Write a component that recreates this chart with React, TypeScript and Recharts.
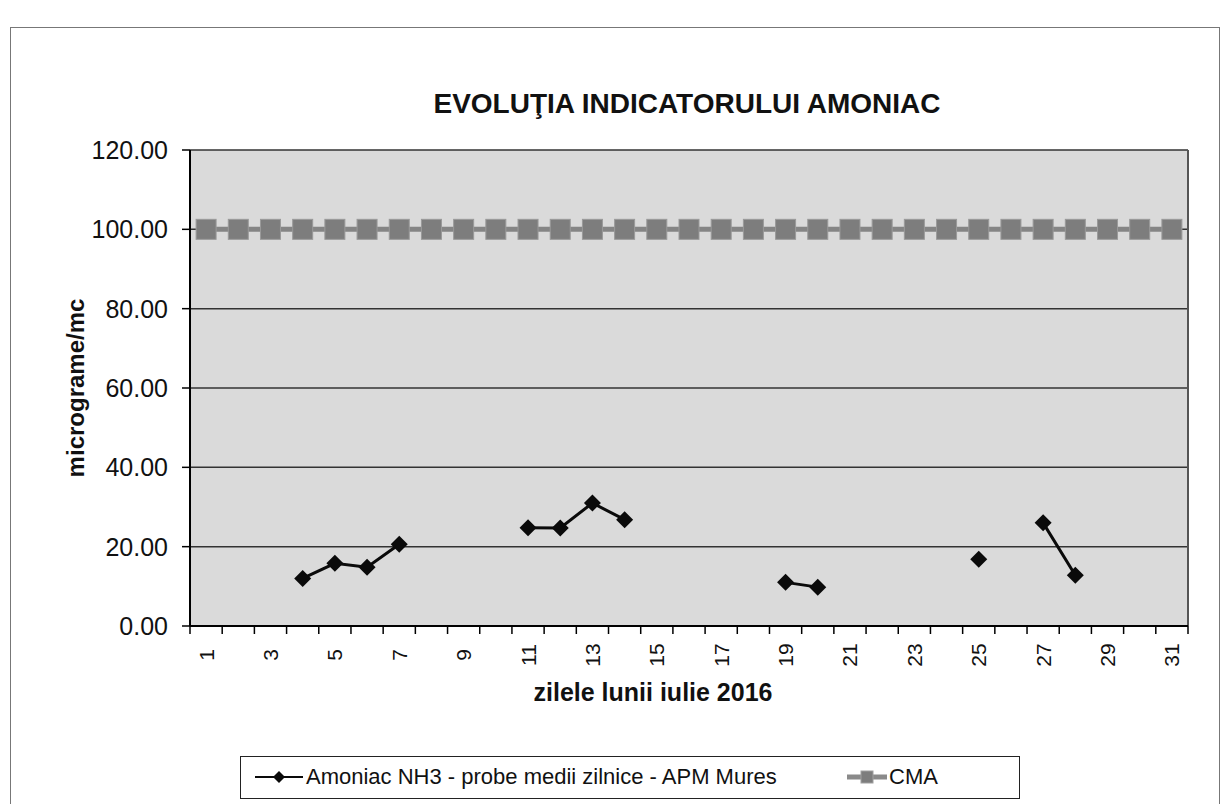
import React from "react";
import {
  LineChart,
  Line,
  XAxis,
  YAxis,
  CartesianGrid,
  Legend,
  ReferenceLine,
} from "recharts";

// zilele lunii iulie 2016
const days = [
  1, 2, 3, 4, 5, 6, 7, 8, 9, 10, 11, 12, 13, 14, 15, 16, 17, 18, 19, 20, 21,
  22, 23, 24, 25, 26, 27, 28, 29, 30, 31,
];

// Amoniac NH3 - probe medii zilnice (null = fara proba)
const nh3 = [
  null, null, null, 12.0, 15.8, 14.8, 20.6, null, null, null, 24.8, 24.7, 31.0,
  26.8, null, null, null, null, 11.0, 9.8, null, null, null, null, 16.8, null,
  26.0, 12.8, null, null, null,
];

// CMA
const cma = [
  100, 100, 100, 100, 100, 100, 100, 100, 100, 100, 100, 100, 100, 100, 100,
  100, 100, 100, 100, 100, 100, 100, 100, 100, 100, 100, 100, 100, 100, 100,
  100,
];

const yTicks = [0, 20, 40, 60, 80, 100, 120];
const xLabelTicks = [1, 3, 5, 7, 9, 11, 13, 15, 17, 19, 21, 23, 25, 27, 29, 31];
const xBoundTicks = [
  0.5, 1.5, 2.5, 3.5, 4.5, 5.5, 6.5, 7.5, 8.5, 9.5, 10.5, 11.5, 12.5, 13.5,
  14.5, 15.5, 16.5, 17.5, 18.5, 19.5, 20.5, 21.5, 22.5, 23.5, 24.5, 25.5, 26.5,
  27.5, 28.5, 29.5, 30.5, 31.5,
];

const data = days.map((d, i) => ({ day: d, nh3: nh3[i], cma: cma[i] }));

const FONT = "'Liberation Sans', Arial, sans-serif";
const NH3_LABEL = "Amoniac NH3 - probe medii zilnice - APM Mures";

const Diamond = (props: any) => {
  const { cx, cy, value, index } = props;
  if (cx == null || cy == null || value == null) return <g key={`d-${index}`} />;
  const r = 8.5;
  return (
    <path
      key={`d-${index}`}
      d={`M${cx},${cy - r}L${cx + r},${cy}L${cx},${cy + r}L${cx - r},${cy}Z`}
      fill="#0a0a0a"
    />
  );
};

const Square = (props: any) => {
  const { cx, cy, index } = props;
  if (cx == null || cy == null) return <g key={`s-${index}`} />;
  return (
    <rect
      key={`s-${index}`}
      x={cx - 10}
      y={cy - 10}
      width={20}
      height={20}
      fill="#7d7d7d"
      stroke="#9a9a9a"
      strokeWidth={1}
    />
  );
};

const EmptyTick = () => <g />;

const DayTick = (props: any) => {
  const { x, y, payload } = props;
  return (
    <text
      x={x}
      y={y}
      transform={`rotate(-90, ${x}, ${y})`}
      textAnchor="middle"
      dominantBaseline="central"
      fontFamily={FONT}
      fontSize={21}
      fill="#111"
    >
      {payload.value}
    </text>
  );
};

const YTitle = (props: any) => {
  const vb = props.viewBox;
  const x = vb.x - 15;
  const y = vb.y + vb.height / 2;
  return (
    <text
      x={x}
      y={y}
      transform={`rotate(-90, ${x}, ${y})`}
      textAnchor="middle"
      dominantBaseline="central"
      fontFamily={FONT}
      fontWeight="bold"
      fontSize={24}
      fill="#111"
    >
      micrograme/mc
    </text>
  );
};

const XTitle = (props: any) => {
  const vb = props.viewBox;
  return (
    <text
      x={vb.x + vb.width / 2 - 36}
      y={vb.y + 65}
      textAnchor="middle"
      dominantBaseline="central"
      fontFamily={FONT}
      fontWeight="bold"
      fontSize={25}
      fill="#111"
    >
      zilele lunii iulie 2016
    </text>
  );
};

const LegendBox = () => (
  <div
    style={{
      position: "relative",
      width: 780,
      height: 43,
      border: "1.5px solid #222",
      boxSizing: "border-box",
      background: "#fff",
      fontFamily: FONT,
      fontSize: 22,
      color: "#111",
    }}
  >
    <svg width={48} height={20} style={{ position: "absolute", left: 14, top: 10 }}>
      <line x1={0} y1={10} x2={48} y2={10} stroke="#0a0a0a" strokeWidth={2} />
      <path d="M24,4L30,10L24,16L18,10Z" fill="#0a0a0a" />
    </svg>
    <span style={{ position: "absolute", left: 65, top: 7, whiteSpace: "nowrap" }}>
      {NH3_LABEL}
    </span>
    <svg width={40} height={20} style={{ position: "absolute", left: 606, top: 10 }}>
      <line x1={0} y1={10} x2={40} y2={10} stroke="#8a8a8a" strokeWidth={5} />
      <rect x={14} y={4} width={12} height={12} fill="#7d7d7d" stroke="#a0a0a0" />
    </svg>
    <span style={{ position: "absolute", left: 648, top: 7 }}>CMA</span>
  </div>
);

export default function App() {
  return (
    <div style={{ position: "relative", width: 1214, height: 796, background: "#fff" }}>
      <div
        style={{
          position: "absolute",
          left: 2,
          top: 19,
          width: 1210,
          height: 820,
          border: "1.5px solid #777",
          boxSizing: "border-box",
        }}
      />
      <div
        style={{
          position: "absolute",
          left: 0,
          top: 80,
          width: 1358,
          textAlign: "center",
          fontFamily: FONT,
          fontWeight: "bold",
          fontSize: 28,
          color: "#111",
          whiteSpace: "nowrap",
        }}
      >
        EVOLUŢIA INDICATORULUI AMONIAC
      </div>
      <div style={{ position: "absolute", left: 0, top: 0 }}>
        <LineChart
          width={1214}
          height={796}
          data={data}
          margin={{ top: 142, right: 34, bottom: 88, left: 82 }}
        >
          <CartesianGrid
            xAxisId="lab"
            vertical={false}
            fill="#dadada"
            stroke="#333"
            strokeWidth={1.5}
          />
          <XAxis
            xAxisId="grid"
            dataKey="day"
            type="number"
            domain={[0.5, 31.5]}
            ticks={xBoundTicks}
            interval={0}
            tick={<EmptyTick />}
            tickSize={8}
            tickLine={{ stroke: "#000", strokeWidth: 1.5 }}
            axisLine={{ stroke: "#000", strokeWidth: 2 }}
            height={1}
          />
          <XAxis
            xAxisId="lab"
            dataKey="day"
            type="number"
            domain={[0.5, 31.5]}
            ticks={xLabelTicks}
            interval={0}
            tick={<DayTick />}
            tickLine={false}
            axisLine={false}
            tickSize={8}
            tickMargin={20}
            height={89}
            label={<XTitle />}
          />
          <YAxis
            domain={[0, 120]}
            ticks={yTicks}
            interval={0}
            width={100}
            tickFormatter={(v: number) => v.toFixed(2)}
            tick={{ fontFamily: FONT, fontSize: 25, fill: "#111" }}
            tickSize={8}
            tickMargin={14}
            tickLine={{ stroke: "#000", strokeWidth: 1.5 }}
            axisLine={{ stroke: "#000", strokeWidth: 2 }}
            label={<YTitle />}
          />
          <ReferenceLine xAxisId="grid" x={31.5} stroke="#555" strokeWidth={2} />
          <Legend
            verticalAlign="middle"
            align="center"
            content={<LegendBox />}
            wrapperStyle={{ left: 232, top: 748, width: 780, height: 43 }}
          />
          <Line
            xAxisId="lab"
            dataKey="cma"
            name="CMA"
            stroke="#858585"
            strokeWidth={5}
            dot={Square}
            activeDot={false}
            isAnimationActive={false}
          />
          <Line
            xAxisId="lab"
            dataKey="nh3"
            name={NH3_LABEL}
            stroke="#0a0a0a"
            strokeWidth={3}
            dot={Diamond}
            activeDot={false}
            connectNulls={false}
            isAnimationActive={false}
          />
        </LineChart>
      </div>
    </div>
  );
}
